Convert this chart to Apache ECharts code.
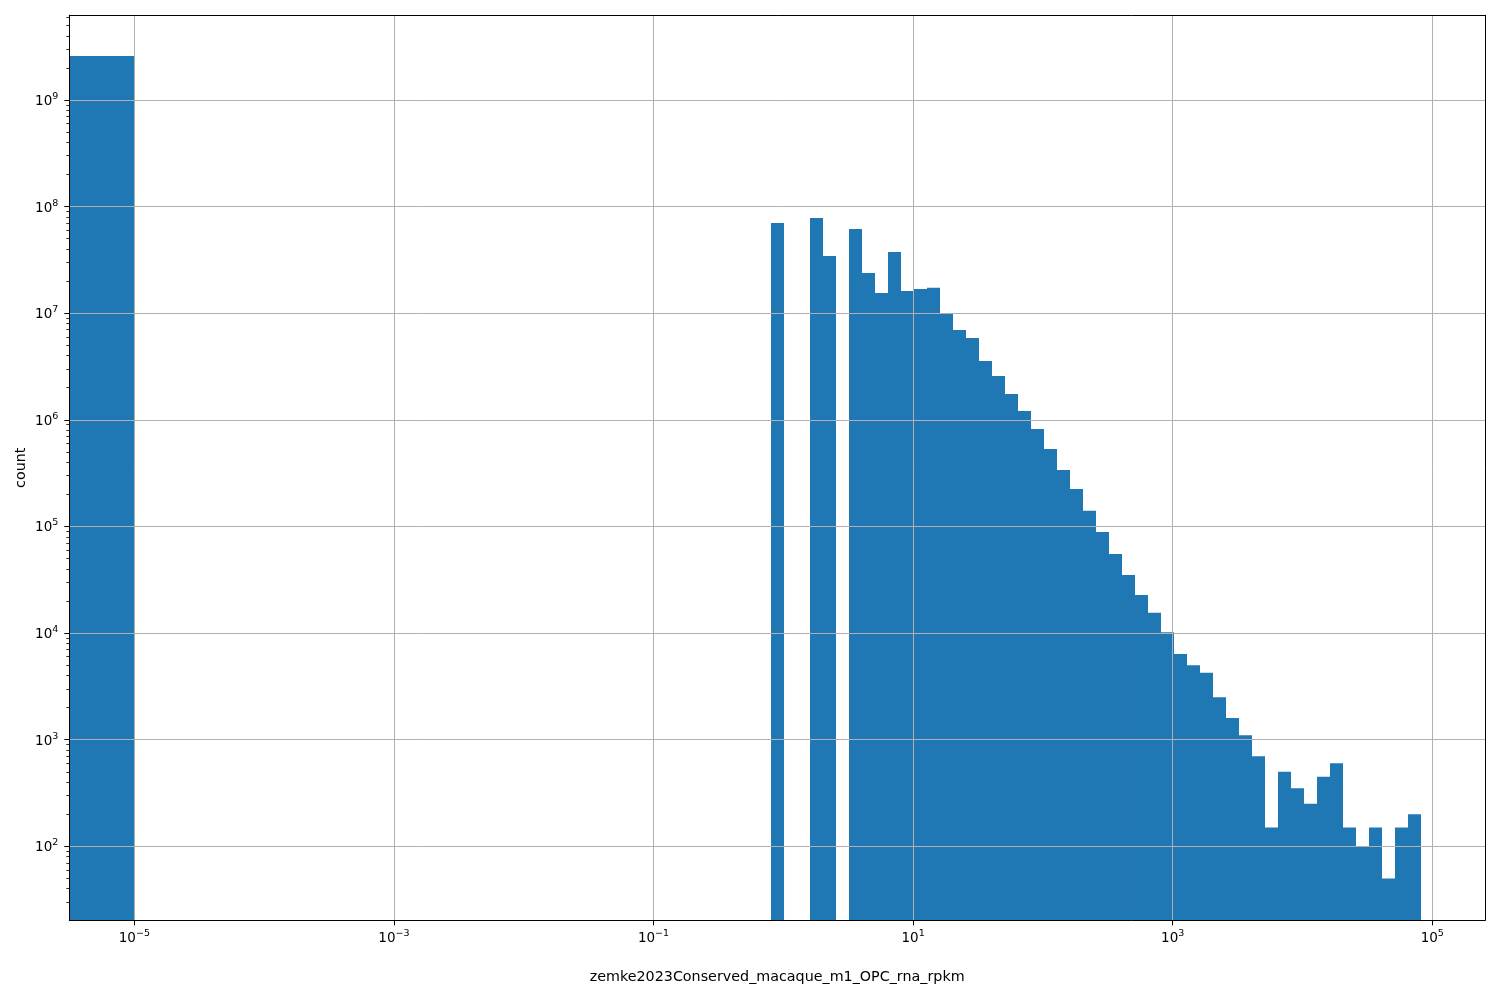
<!DOCTYPE html>
<html>
<head>
<meta charset="utf-8">
<script src="https://cdn.jsdelivr.net/npm/echarts@6/dist/echarts.min.js"></script>
<style>
  html, body { margin: 0; padding: 0; background: #ffffff; }
  #chart { width: 1500px; height: 1000px; }
</style>
</head>
<body>
<div id="chart"></div>
<script>
// ---- data ----
const xTitle = 'zemke2023Conserved_macaque_m1_OPC_rna_rpkm';
const yTitle = 'count';

// zero-value bin (spans from 0 up to 1e-5)
const zeroBinUpper = 1e-5;
const zeroBinCount = 2.59e9;

// logarithmic histogram bins
const binLowerEdge = 0.804;
const binUpperEdge = 81850;
const binCounts = [
  7.03e7, 0, 0, 7.83e7, 3.45e7, 0, 6.18e7, 2.39e7, 1.55e7, 3.76e7,
  1.62e7, 1.69e7, 1.73e7, 9.9e6, 6.97e6, 5.86e6, 3.57e6, 2.58e6, 1.75e6, 1.21e6,
  8.22e5, 5.33e5, 3.39e5, 2.25e5, 1.40e5, 8.87e4, 5.52e4, 3.51e4, 2.28e4, 1.55e4,
  1.02e4, 6350, 5000, 4250, 2500, 1600, 1100, 700, 150, 500,
  350, 250, 450, 600, 150, 100, 150, 50, 150, 200
];

const xTickValues = [1e-5, 1e-3, 1e-1, 1e1, 1e3, 1e5];
const yTickValues = [1e2, 1e3, 1e4, 1e5, 1e6, 1e7, 1e8, 1e9];
const yMinorMultipliers = [2, 3, 4, 5, 6, 7, 8, 9];

const xMin = 3.155e-6, xMax = 2.547e5;
const yMin = 20.22, yMax = 6.23e9;

// ---- build ----
const nBins = binCounts.length;
const logLo = Math.log10(binLowerEdge), logHi = Math.log10(binUpperEdge);
const step = (logHi - logLo) / nBins;
const histData = [[0, zeroBinUpper, zeroBinCount]];
binCounts.forEach((c, i) => {
  if (c > 0) histData.push([Math.pow(10, logLo + i * step), Math.pow(10, logLo + (i + 1) * step), c]);
});

const yMinorValues = [];
for (let e = 1; e <= 9; e++) {
  yMinorMultipliers.forEach(m => {
    const v = m * Math.pow(10, e);
    if (v > yMin && v < yMax) yMinorValues.push(v);
  });
}

const FONT = 'DejaVu Sans';
function powLabel(v) {
  const e = Math.round(Math.log10(v));
  return '{b|10}{s|' + (e < 0 ? '\u2212' + (-e) : e) + '}';
}
const richLabel = {
  b: { fontFamily: FONT, fontSize: 13.5, color: '#000', lineHeight: 17, verticalAlign: 'bottom' },
  s: { fontFamily: FONT, fontSize: 9.5, color: '#000', lineHeight: 9, verticalAlign: 'top' }
};

const frameLine = { show: true, lineStyle: { color: '#000', width: 1 } };

const chart = echarts.init(document.getElementById('chart'), null, { renderer: 'canvas' });
chart.setOption({
  animation: false,
  backgroundColor: '#ffffff',
  grid: { left: 69.3, right: 15, top: 15.3, bottom: 79.7, containLabel: false },
  xAxis: [
    {
      type: 'log', logBase: 10, min: xMin, max: xMax, position: 'bottom', z: 5,
      name: xTitle, nameLocation: 'middle', nameGap: 50, nameMoveOverlap: false,
      nameTextStyle: { fontFamily: FONT, fontSize: 14.3, color: '#000' },
      axisLine: frameLine,
      axisTick: { show: true, length: 5, customValues: xTickValues, lineStyle: { color: '#000', width: 1 } },
      axisLabel: { show: true, customValues: xTickValues, margin: 8, formatter: powLabel, rich: richLabel },
      splitLine: { show: true, lineStyle: { color: '#b0b0b0', width: 1 } },
      minorTick: { show: false }, minorSplitLine: { show: false }
    },
    {
      type: 'log', logBase: 10, min: xMin, max: xMax, position: 'top', z: 5,
      axisLine: frameLine, axisTick: { show: false }, axisLabel: { show: false }, splitLine: { show: false }
    }
  ],
  yAxis: [
    {
      type: 'log', logBase: 10, min: yMin, max: yMax, position: 'left', z: 5,
      name: yTitle, nameLocation: 'middle', nameGap: 41, nameRotate: 90, nameMoveOverlap: false,
      nameTextStyle: { fontFamily: FONT, fontSize: 14.3, color: '#000' },
      axisLine: frameLine,
      axisTick: { show: true, length: 5, customValues: yTickValues, lineStyle: { color: '#000', width: 1 } },
      axisLabel: { show: true, customValues: yTickValues, margin: 11, formatter: powLabel, rich: richLabel },
      splitLine: { show: true, lineStyle: { color: '#b0b0b0', width: 1 } },
      minorTick: { show: false }, minorSplitLine: { show: false }
    },
    {
      type: 'log', logBase: 10, min: yMin, max: yMax, position: 'left', offset: 0, z: 5,
      axisLine: frameLine,
      axisTick: { show: true, length: 3, customValues: yMinorValues, lineStyle: { color: '#000', width: 0.8 } },
      axisLabel: { show: false }, splitLine: { show: false }
    },
    {
      type: 'log', logBase: 10, min: yMin, max: yMax, position: 'right', z: 5,
      axisLine: frameLine, axisTick: { show: false }, axisLabel: { show: false }, splitLine: { show: false }
    }
  ],
  series: [{
    type: 'custom',
    xAxisIndex: 0, yAxisIndex: 0,
    clip: true,
    z: 2,
    encode: { x: [0, 1], y: 2 },
    data: histData,
    renderItem: function (params, api) {
      const lo = api.value(0), hi = api.value(1), c = api.value(2);
      const cs = params.coordSys;
      const left = lo > 0 ? api.coord([lo, c])[0] : cs.x;
      const pr = api.coord([hi, c]);
      const bottom = cs.y + cs.height;
      return {
        type: 'rect',
        shape: { x: left, y: pr[1], width: pr[0] - left, height: bottom - pr[1] },
        style: { fill: '#1f77b4' }
      };
    }
  }]
});
</script>
</body>
</html>
